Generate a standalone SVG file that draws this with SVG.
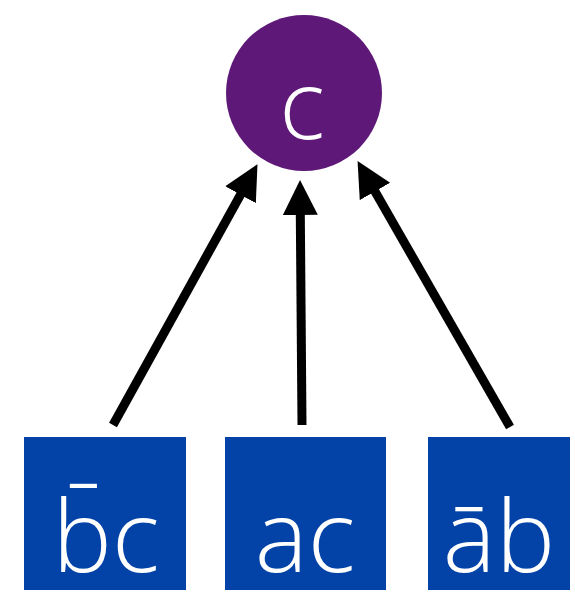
<svg xmlns="http://www.w3.org/2000/svg" width="575" height="593" viewBox="0 0 575 593">
<style>
.box{fill:#0343A8}
.circ{fill:#5E1978}
.lbl{fill:#ffffff;font-family:"Open Sans","Noto Sans",sans-serif;font-weight:300;font-size:100px;text-anchor:middle}
.edge{stroke:#000;stroke-width:9;fill:none;marker-end:url(#ah)}
</style>
<defs>
<marker id="ah" markerUnits="userSpaceOnUse" viewBox="0 -18 36 36" refX="14" refY="0" markerWidth="36" markerHeight="36" orient="auto">
<path d="M0,-17.5 L35,0 L0,17.5 z" fill="#000"/>
</marker>
</defs>
<g id="connectors">
<line class="edge" x1="113" y1="425" x2="247.3" y2="182.5"/>
<line class="edge" x1="302" y1="425" x2="300.2" y2="201"/>
<line class="edge" x1="510" y1="427" x2="368" y2="179.3"/>
</g>
<g id="node-c">
<circle class="circ" cx="304" cy="93" r="78"/>
<text class="lbl" x="302" y="139" style="font-size:96px">c</text>
</g>
<g id="node-bbar-c">
<rect class="box" x="24" y="437" width="162" height="153"/>
<text class="lbl" x="106" y="572">b̄c</text>
</g>
<g id="node-ac">
<rect class="box" x="225" y="437" width="161" height="153"/>
<text class="lbl" x="305" y="572">ac</text>
</g>
<g id="node-abar-b">
<rect class="box" x="428" y="437" width="142" height="153"/>
<text class="lbl" x="499" y="572">āb</text>
</g>
</svg>
